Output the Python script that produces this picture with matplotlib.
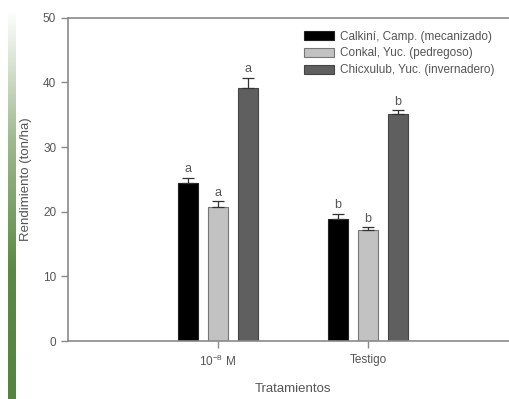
import numpy as np
import matplotlib
matplotlib.use("Agg")
from matplotlib import pyplot as plt
from matplotlib.colors import LinearSegmentedColormap

plt.rcParams['font.family'] = ['Liberation Sans', 'DejaVu Sans']
plt.rcParams['mathtext.fontset'] = 'custom'
plt.rcParams['mathtext.rm'] = 'Liberation Sans'
plt.rcParams['mathtext.it'] = 'Liberation Sans:italic'

# data
tratamientos = ['10$^{-8}$ M', 'Testigo']
sitios = ['Calkiní, Camp. (mecanizado)', 'Conkal, Yuc. (pedregoso)',
          'Chicxulub, Yuc. (invernadero)']
calkini = [24.5, 18.9]
conkal = [20.7, 17.2]
chicxulub = [39.2, 35.1]
err_calkini = [0.7, 0.8]
err_conkal = [0.9, 0.4]
err_chicxulub = [1.5, 0.6]
let_calkini = ['a', 'b']
let_conkal = ['a', 'b']
let_chicxulub = ['a', 'b']

colors = ['#000000', '#c2c2c2', '#5f5f5f']
edges = ['#222222', '#777777', '#444444']
gray = '#8a8a8a'
txt = '#555555'

W, H = 509, 399
fig = plt.figure(figsize=(W / 100, H / 100), dpi=100)

# green decorative strip on the left
deco = fig.add_axes([8 / W, 0, 8 / W, 1 - 10 / H])
grad = np.linspace(0, 1, 256).reshape(-1, 1)
cmap = LinearSegmentedColormap.from_list('g', ['#ffffff', '#9fba8f', '#5b8a45', '#548441'])
deco.imshow(grad, aspect='auto', cmap=cmap, origin='upper')
deco.axis('off')

ax = fig.add_axes([68 / W, 1 - 341 / H, (518 - 68) / W, (341 - 17.7) / H])

x = np.arange(len(tratamientos))
step = 0.2
width = 0.13
series = [calkini, conkal, chicxulub]
errs = [err_calkini, err_conkal, err_chicxulub]
lets = [let_calkini, let_conkal, let_chicxulub]
for i, (vals, e, lt) in enumerate(zip(series, errs, lets)):
    pos = x + (i - 1) * step
    ax.bar(pos, vals, width, color=colors[i], edgecolor=edges[i], linewidth=0.8,
           label=sitios[i], zorder=2)
    ax.errorbar(pos, vals, yerr=[np.zeros(len(vals)), e], fmt='none',
                ecolor='#333333', elinewidth=0.9, capsize=4, capthick=0.9, zorder=3)
    for p, v, ee, l in zip(pos, vals, e, lt):
        ax.text(p, v + ee + 0.4, l, ha='center', va='bottom', fontsize=9, color=txt)

ax.set_xlim(-1, 2)
ax.set_ylim(0, 50)
ax.set_xticks(x)
ax.set_xticklabels(tratamientos)
ax.set_yticks(np.arange(0, 51, 10))
ax.tick_params(axis='both', colors=gray, labelcolor=txt, labelsize=8.5, length=5, width=1)
ax.tick_params(axis='x', pad=4)
for s in ['left', 'bottom', 'top']:
    ax.spines[s].set_color(gray)
    ax.spines[s].set_linewidth(1.2)
ax.spines['right'].set_visible(False)

ax.set_xlabel('Tratamientos', fontsize=9.5, color=txt, labelpad=10)
ax.set_ylabel('Rendimiento (ton/ha)', fontsize=9.5, color=txt, labelpad=8)

ax.legend(loc='upper left', bbox_to_anchor=(231 / 450, 0.975), frameon=False,
          fontsize=8.5, labelcolor=txt, handlelength=2.6, handleheight=0.8,
          handletextpad=0.5, labelspacing=0.42, borderaxespad=0)

fig.savefig('out.png', dpi=100)
